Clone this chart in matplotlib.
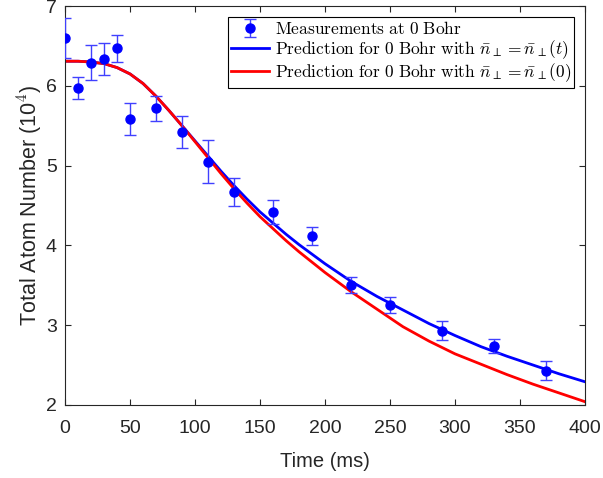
import numpy as np
import matplotlib
matplotlib.use("Agg")
import matplotlib.pyplot as plt

# measured data (time in ms, atom number in 1e4)
t_meas = [0, 10, 20, 30, 40, 50, 70, 90, 110, 130, 160, 190, 220, 250, 290, 330, 370]
n_meas = [6.60, 5.97, 6.29, 6.34, 6.47, 5.59, 5.72, 5.42, 5.05, 4.67, 4.42, 4.12, 3.50, 3.25, 2.93, 2.74, 2.43]
n_err = [0.25, 0.14, 0.22, 0.20, 0.17, 0.20, 0.16, 0.20, 0.27, 0.18, 0.15, 0.11, 0.10, 0.10, 0.12, 0.09, 0.12]

# predictions
t_pred = [0, 10, 20, 30, 40, 50, 60, 70, 80, 90, 100, 110, 120, 130, 140, 150, 160, 170, 180, 190,
          200, 220, 240, 260, 280, 300, 320, 340, 360, 380, 400]
n_pred_t = [6.31, 6.31, 6.30, 6.28, 6.23, 6.15, 6.03, 5.87, 5.69, 5.50, 5.31, 5.12, 4.93, 4.75, 4.58,
            4.42, 4.28, 4.14, 4.01, 3.89, 3.77, 3.55, 3.36, 3.19, 3.02, 2.87, 2.73, 2.61, 2.50, 2.39, 2.29]
n_pred_0 = [6.31, 6.31, 6.30, 6.28, 6.23, 6.15, 6.03, 5.87, 5.69, 5.50, 5.30, 5.10, 4.90, 4.71, 4.53,
            4.36, 4.21, 4.06, 3.92, 3.79, 3.66, 3.42, 3.20, 2.98, 2.80, 2.64, 2.51, 2.38, 2.26, 2.15, 2.04]

plt.rcParams['mathtext.fontset'] = 'cm'
plt.rcParams['font.family'] = ['Liberation Sans', 'DejaVu Sans']

fig = plt.figure(figsize=(6.03, 4.78), dpi=100)
ax = fig.add_axes([0.108, 0.153, 0.862, 0.834])

dark = (0.15, 0.15, 0.15)

meas = ax.errorbar(t_meas, n_meas, yerr=n_err, fmt='o', color='blue', markersize=6.5,
                   elinewidth=1.0, capsize=4, capthick=1.0, ecolor=(0.25, 0.25, 1.0), zorder=3)
l1, = ax.plot(t_pred, n_pred_t, color='blue', lw=2.0)
l2, = ax.plot(t_pred, n_pred_0, color='red', lw=2.0)

ax.set_xlim(0, 400)
ax.set_ylim(2, 7)
ax.set_xticks(np.arange(0, 401, 50))
ax.set_yticks(np.arange(2, 8, 1))
ax.tick_params(direction='in', top=True, right=True, length=4, width=0.8,
               labelsize=14, colors=dark, labelcolor=dark)
ax.tick_params(axis='x', pad=11)
ax.tick_params(axis='y', pad=6)
for s in ax.spines.values():
    s.set_color(dark)
    s.set_linewidth(0.8)

ax.set_xlabel('Time (ms)', fontsize=14.5, color=dark, labelpad=11)
ax.set_ylabel(r'Total Atom Number (10$^4$)', fontsize=15.5, color=dark, labelpad=1)

labels = [r'$\mathrm{Measurements\ at\ 0\ Bohr}$',
          r'$\mathrm{Prediction\ for\ 0\ Bohr\ with\ }\bar{n}_\perp=\bar{n}_\perp(t)$',
          r'$\mathrm{Prediction\ for\ 0\ Bohr\ with\ }\bar{n}_\perp=\bar{n}_\perp(0)$']
leg = ax.legend([meas, l1, l2], labels, loc='upper right', fontsize=12.5, frameon=True,
                fancybox=False, edgecolor='black', framealpha=1, borderpad=0.2,
                labelspacing=0.05, handlelength=2.2, handletextpad=0.3, borderaxespad=0.6)
leg.get_frame().set_linewidth(0.8)

fig.savefig('out.png', dpi=100)
